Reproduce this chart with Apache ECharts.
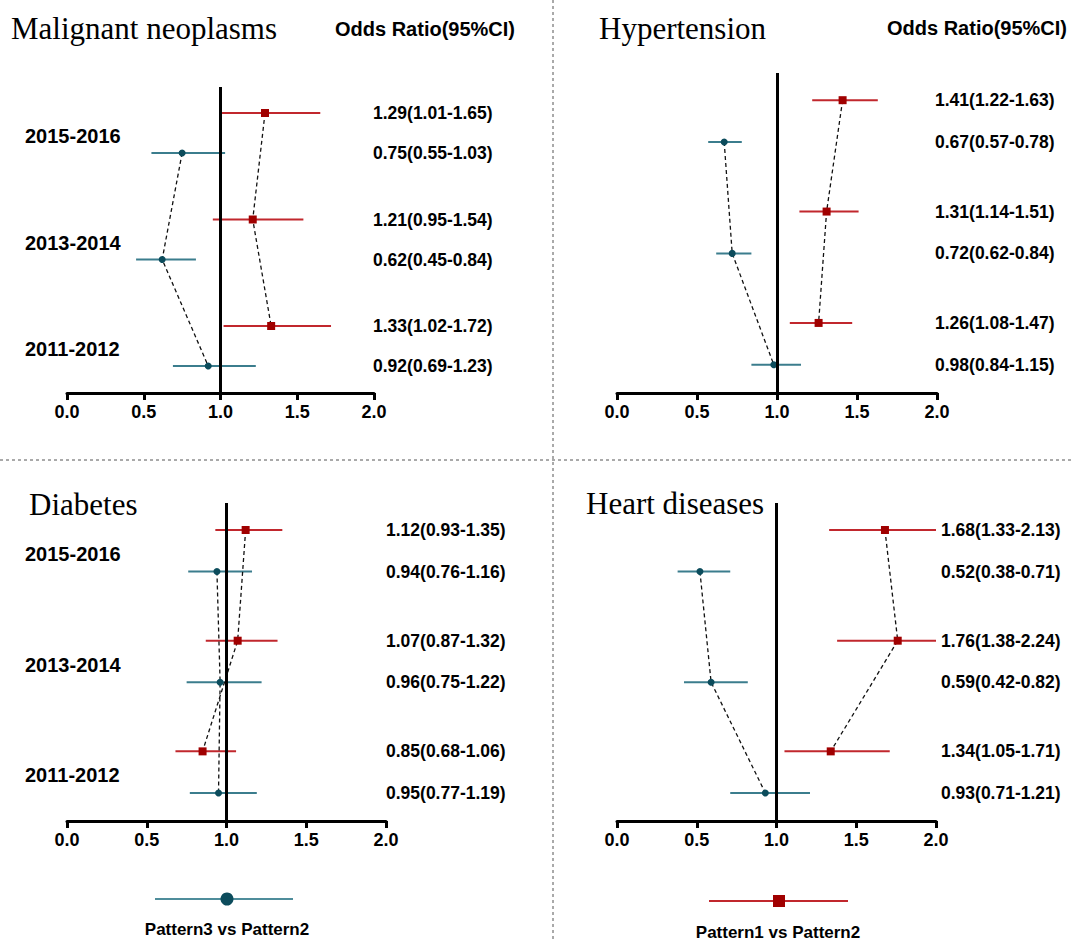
<!DOCTYPE html>
<html><head><meta charset="utf-8">
<script src="https://cdn.jsdelivr.net/npm/echarts@6/dist/echarts.min.js"></script>
<style>html,body{margin:0;padding:0;background:#fff}#c{width:1072px;height:942px}</style>
</head><body><div id="c"></div>
<script>
// ---------------- data ----------------
const years = ['2015-2016', '2013-2014', '2011-2012'];            // top to bottom
const diseases = ['Malignant neoplasms', 'Hypertension', 'Diabetes', 'Heart diseases'];
const xTicks = [0, 0.5, 1, 1.5, 2];
const seriesNames = ['Pattern1 vs Pattern2', 'Pattern3 vs Pattern2'];
const headerText = 'Odds Ratio(95%CI)';
// [OR, lower 95%CI, upper 95%CI] per year (2015-2016, 2013-2014, 2011-2012)
const malignantP1 = [[1.29, 1.01, 1.65], [1.21, 0.95, 1.54], [1.33, 1.02, 1.72]];
const malignantP3 = [[0.75, 0.55, 1.03], [0.62, 0.45, 0.84], [0.92, 0.69, 1.23]];
const hypertensionP1 = [[1.41, 1.22, 1.63], [1.31, 1.14, 1.51], [1.26, 1.08, 1.47]];
const hypertensionP3 = [[0.67, 0.57, 0.78], [0.72, 0.62, 0.84], [0.98, 0.84, 1.15]];
const diabetesP1 = [[1.12, 0.93, 1.35], [1.07, 0.87, 1.32], [0.85, 0.68, 1.06]];
const diabetesP3 = [[0.94, 0.76, 1.16], [0.96, 0.75, 1.22], [0.95, 0.77, 1.19]];
const heartP1 = [[1.68, 1.33, 2.13], [1.76, 1.38, 2.24], [1.34, 1.05, 1.71]];
const heartP3 = [[0.52, 0.38, 0.71], [0.59, 0.42, 0.82], [0.93, 0.71, 1.21]];

// ---------------- styling / layout ----------------
const RED_LINE = '#c1272d', RED_MARK = '#a00000';
const TEAL_LINE = '#3b7d8d', TEAL_MARK = '#0c4c5c';
const SANS = '"Liberation Sans", Arial, sans-serif';
const SERIF = '"Liberation Serif", "Times New Roman", serif';
const GROUP_STEP = 106.5, PAIR_GAP = 40, Y_MIN = -27, Y_MAX = 279;

const panels = [
  { name: diseases[0], p1: malignantP1, p3: malignantP3,
    grid: { left: 67, top: 87, width: 307, height: 306 },
    title: [11, 28], header: [335, 29], years: true, valGap: -1 },
  { name: diseases[1], p1: hypertensionP1, p3: hypertensionP3,
    grid: { left: 617, top: 73, width: 320, height: 320 },
    title: [599, 28], header: [887, 28], years: false, valGap: -2 },
  { name: diseases[2], p1: diabetesP1, p3: diabetesP3,
    grid: { left: 67, top: 503, width: 319, height: 318 },
    title: [29, 504], header: null, years: true, valGap: 0 },
  { name: diseases[3], p1: heartP1, p3: heartP3,
    grid: { left: 617, top: 503, width: 319, height: 318 },
    title: [586, 503], header: null, years: false, valGap: 5 }
];

function rowY(g, isP1) {           // g: 0 = top year
  const gb = years.length - 1 - g;
  return gb * GROUP_STEP + (isP1 ? PAIR_GAP : 0);
}
function fmt(d) { return d[0].toFixed(2) + '(' + d[1].toFixed(2) + '-' + d[2].toFixed(2) + ')'; }

const grids = [], xAxes = [], yAxes = [], series = [], graphics = [];

panels.forEach((p, i) => {
  grids.push(Object.assign({}, p.grid));
  xAxes.push({
    gridIndex: i, type: 'value', min: xTicks[0], max: xTicks[xTicks.length - 1],
    interval: xTicks[1] - xTicks[0],
    axisLine: { show: true, onZero: false, lineStyle: { color: '#000', width: 3 } },
    axisTick: { show: true, length: 7, lineStyle: { color: '#000', width: 3 } },
    axisLabel: { color: '#000', fontSize: 18, fontWeight: 'bold', fontFamily: SANS, margin: 10,
      formatter: v => v.toFixed(1) },
    splitLine: { show: false }
  });
  yAxes.push({ gridIndex: i, type: 'value', min: Y_MIN, max: Y_MAX, show: false });

  [[p.p1, true], [p.p3, false]].forEach(([arr, isP1]) => {
    const lineColor = isP1 ? RED_LINE : TEAL_LINE;
    // CI bars
    series.push({
      type: 'custom', name: isP1 ? seriesNames[0] : seriesNames[1],
      xAxisIndex: i, yAxisIndex: i, z: 2, silent: true,
      data: arr.map((d, g) => [d[1], d[2], rowY(g, isP1)]),
      encode: { x: [0, 1], y: 2 },
      renderItem: (params, api) => {
        const cs = params.coordSys;
        const a = api.coord([api.value(0), api.value(2)]);
        const b = api.coord([api.value(1), api.value(2)]);
        const x1 = Math.max(a[0], cs.x), x2 = Math.min(b[0], cs.x + cs.width);
        return { type: 'line', shape: { x1: x1, y1: a[1], x2: x2, y2: b[1] },
          style: { stroke: lineColor, lineWidth: 2 } };
      }
    });
    // point estimates + dashed connector
    series.push({
      type: 'line', name: isP1 ? seriesNames[0] : seriesNames[1],
      xAxisIndex: i, yAxisIndex: i, z: 4, silent: true,
      data: arr.map((d, g) => [d[0], rowY(g, isP1)]),
      symbol: isP1 ? 'rect' : 'circle', symbolSize: isP1 ? 8 : 7,
      itemStyle: { color: isP1 ? RED_MARK : TEAL_MARK },
      lineStyle: { color: '#111', width: 1.3, type: [4, 3] }
    });
    // value labels
    series.push({
      type: 'scatter', xAxisIndex: i, yAxisIndex: i, symbolSize: 0, silent: true, z: 5,
      itemStyle: { opacity: 1 },
      data: arr.map((d, g) => ({ value: [xTicks[xTicks.length - 1], rowY(g, isP1)], txt: fmt(d) })),
      label: { show: true, position: 'right', distance: p.valGap, color: '#000', opacity: 1,
        fontSize: 17.5, fontWeight: 'bold', fontFamily: SANS,
        formatter: prm => prm.data.txt }
    });
  });

  // reference line at OR = 1
  series.push({
    type: 'scatter', xAxisIndex: i, yAxisIndex: i, data: [], z: 3, silent: true,
    markLine: { silent: true, symbol: ['none', 'none'], label: { show: false }, animation: false,
      lineStyle: { color: '#000', width: 3, type: 'solid' }, data: [{ xAxis: 1 }] }
  });

  if (p.years) {
    series.push({
      type: 'scatter', xAxisIndex: i, yAxisIndex: i, symbolSize: 0, silent: true, clip: false,
      itemStyle: { opacity: 1 },
      data: years.map((y, g) => ({ value: [xTicks[0], rowY(g, false) + PAIR_GAP / 2 - 3], txt: y })),
      label: { show: true, position: 'right', distance: 0, offset: [-42, 0], color: '#000', opacity: 1,
        fontSize: 20, fontWeight: 'bold', fontFamily: SANS, formatter: prm => prm.data.txt }
    });
  }

  graphics.push({ type: 'text', x: p.title[0], y: p.title[1],
    style: { text: p.name, font: 'normal 31px ' + SERIF, fill: '#000', verticalAlign: 'middle' } });
  if (p.header) {
    graphics.push({ type: 'text', x: p.header[0], y: p.header[1],
      style: { text: headerText, font: 'bold 20px ' + SANS, fill: '#000', verticalAlign: 'middle' } });
  }
});

// dividers
graphics.push({ type: 'line', shape: { x1: 553, y1: 0, x2: 553, y2: 942 },
  style: { stroke: '#555', lineWidth: 1, lineDash: [3, 3] } });
graphics.push({ type: 'line', shape: { x1: 0, y1: 460, x2: 1072, y2: 460 },
  style: { stroke: '#555', lineWidth: 1, lineDash: [3, 3] } });

// bottom legend
graphics.push({ type: 'line', shape: { x1: 155, y1: 899, x2: 293, y2: 899 },
  style: { stroke: '#4f8d9b', lineWidth: 2 } });
graphics.push({ type: 'circle', shape: { cx: 227, cy: 899, r: 6.5 }, style: { fill: TEAL_MARK } });
graphics.push({ type: 'text', x: 227, y: 929,
  style: { text: seriesNames[1], font: 'bold 17px ' + SANS, fill: '#000', align: 'center', verticalAlign: 'middle' } });
graphics.push({ type: 'line', shape: { x1: 709, y1: 901, x2: 848, y2: 901 },
  style: { stroke: RED_LINE, lineWidth: 2 } });
graphics.push({ type: 'rect', shape: { x: 773, y: 895, width: 12, height: 12 }, style: { fill: RED_MARK } });
graphics.push({ type: 'text', x: 778, y: 932,
  style: { text: seriesNames[0], font: 'bold 17px ' + SANS, fill: '#000', align: 'center', verticalAlign: 'middle' } });

const chart = echarts.init(document.getElementById('c'), null, { renderer: 'svg' });
chart.setOption({
  backgroundColor: '#fff',
  animation: false,
  grid: grids, xAxis: xAxes, yAxis: yAxes, series: series,
  graphic: { elements: graphics }
});
</script></body></html>
